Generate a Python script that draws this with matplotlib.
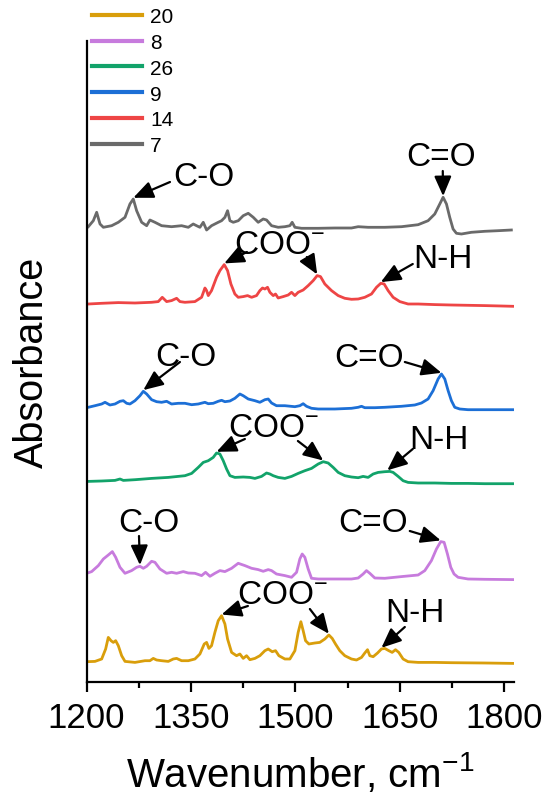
import numpy as np
import matplotlib
matplotlib.use('Agg')
import matplotlib.pyplot as plt

plt.rcParams['font.family'] = ['Liberation Sans', 'DejaVu Sans']
plt.rcParams['mathtext.fontset'] = 'custom'
plt.rcParams['mathtext.rm'] = 'Liberation Sans'
plt.rcParams['mathtext.it'] = 'Liberation Sans'
plt.rcParams['mathtext.default'] = 'regular'

# ---------------- data ----------------
labels = ['20', '8', '26', '9', '14', '7']
colors = ['#D99E0B', '#C77BDD', '#12A36A', '#1C6FD6', '#EE4545', '#6A6A6A']
offsets = [0.203, 1.087, 2.003, 2.74, 3.787, 4.54]

wn_20 = [1200.2, 1212.2, 1221.8, 1227.5, 1231.3, 1235.2, 1238.5, 1241.9, 1245.7, 1250.5,
         1255.3, 1269.6, 1284.0, 1291.1, 1295.9, 1300.7, 1307.9, 1317.5, 1324.6, 1329.4,
         1336.6, 1346.2, 1355.7, 1362.9, 1369.1, 1372.5, 1375.8, 1379.6, 1384.4, 1389.2,
         1394.0, 1398.8, 1402.6, 1408.4, 1415.5, 1420.3, 1425.1, 1429.9, 1434.7, 1441.9,
         1449.0, 1456.2, 1461.0, 1466.7, 1471.5, 1476.3, 1484.9, 1492.1, 1499.3, 1504.0,
         1507.9, 1511.2, 1514.6, 1519.4, 1528.0, 1535.1, 1542.3, 1548.1, 1552.9, 1557.6,
         1563.8, 1571.0, 1580.6, 1587.8, 1595.0, 1599.7, 1603.6, 1606.9, 1611.7, 1618.0,
         1623.6, 1628.4, 1634.2, 1639.0, 1643.8, 1648.5, 1654.7, 1661.9, 1676.3, 1700.2,
         1724.1, 1772.0, 1812.6]
abs_20 = [0.0, 0.003, 0.027, 0.127, 0.243, 0.21, 0.193, 0.21, 0.16, 0.06,
          0.003, -0.007, 0.01, 0.01, 0.033, 0.017, 0.01, 0.003, 0.027, 0.033,
          0.01, 0.01, 0.027, 0.077, 0.177, 0.193, 0.133, 0.16, 0.293, 0.41,
          0.46, 0.377, 0.227, 0.093, 0.06, 0.077, 0.033, 0.06, 0.02, 0.033,
          0.06, 0.11, 0.127, 0.1, 0.11, 0.06, 0.027, 0.027, 0.11, 0.293,
          0.4, 0.31, 0.21, 0.177, 0.187, 0.193, 0.227, 0.267, 0.233, 0.177,
          0.11, 0.06, 0.027, 0.017, 0.043, 0.087, 0.12, 0.06, 0.05, 0.087,
          0.127, 0.133, 0.11, 0.093, 0.12, 0.093, 0.027, 0.0, -0.007, -0.007,
          -0.01, -0.013, -0.017]

wn_8 = [1200.2, 1207.4, 1217.0, 1224.2, 1231.3, 1237.1, 1241.9, 1248.1, 1255.3, 1264.8,
        1272.0, 1276.8, 1281.6, 1286.4, 1293.5, 1298.3, 1305.5, 1315.1, 1322.2, 1329.4,
        1339.0, 1346.2, 1355.7, 1365.3, 1371.0, 1377.3, 1384.4, 1391.6, 1398.8, 1408.4,
        1417.9, 1427.5, 1437.1, 1446.6, 1453.8, 1461.0, 1465.8, 1472.9, 1484.9, 1494.5,
        1501.7, 1506.4, 1509.8, 1513.6, 1518.4, 1523.2, 1532.8, 1556.7, 1580.6, 1590.2,
        1597.3, 1602.1, 1606.9, 1614.1, 1628.4, 1652.4, 1676.3, 1685.9, 1695.4, 1702.6,
        1708.8, 1713.6, 1718.4, 1723.2, 1727.9, 1733.7, 1748.0, 1772.0, 1812.6]
abs_8 = [0.0, 0.017, 0.077, 0.143, 0.183, 0.217, 0.16, 0.06, 0.0, 0.027,
         0.06, 0.07, 0.05, 0.07, 0.12, 0.11, 0.043, 0.0, 0.01, 0.0,
         0.017, 0.003, 0.0, -0.023, 0.01, -0.03, 0.0, 0.027, 0.017, 0.05,
         0.1, 0.077, 0.05, 0.037, 0.02, 0.037, 0.027, -0.007, -0.023, -0.04,
         0.01, 0.143, 0.193, 0.16, 0.043, -0.05, -0.057, -0.057, -0.057, -0.047,
         -0.007, 0.027, 0.0, -0.047, -0.05, -0.033, -0.017, 0.027, 0.127, 0.243,
         0.317, 0.31, 0.193, 0.06, -0.007, -0.04, -0.057, -0.06, -0.063]

wn_26 = [1202.6, 1221.8, 1240.9, 1248.1, 1252.9, 1269.6, 1293.5, 1317.5, 1341.4, 1351.0,
         1360.5, 1367.7, 1374.9, 1382.0, 1386.8, 1391.6, 1396.4, 1401.2, 1406.0, 1413.1,
         1425.1, 1434.7, 1441.9, 1451.4, 1458.6, 1463.4, 1468.2, 1475.3, 1484.9, 1494.5,
         1504.0, 1513.6, 1523.2, 1532.8, 1540.0, 1547.1, 1554.3, 1561.5, 1571.0, 1580.6,
         1590.2, 1597.3, 1604.5, 1611.7, 1618.9, 1628.4, 1635.6, 1640.4, 1647.6, 1654.7,
         1661.9, 1676.3, 1700.2, 1724.1, 1748.0, 1772.0, 1812.6]
abs_26 = [0.003, 0.007, 0.013, 0.027, 0.013, 0.02, 0.033, 0.043, 0.06, 0.083,
          0.143, 0.193, 0.21, 0.243, 0.287, 0.277, 0.21, 0.127, 0.06, 0.043,
          0.047, 0.043, 0.033, 0.053, 0.087, 0.077, 0.06, 0.043, 0.033, 0.053,
          0.083, 0.11, 0.133, 0.177, 0.2, 0.187, 0.143, 0.093, 0.06, 0.047,
          0.04, 0.053, 0.043, 0.077, 0.093, 0.1, 0.103, 0.093, 0.053, 0.01,
          -0.007, -0.013, -0.013, -0.017, -0.017, -0.02, -0.02]

wn_9 = [1202.6, 1212.2, 1221.8, 1226.6, 1233.7, 1240.9, 1248.1, 1252.9, 1257.7, 1262.4,
        1269.6, 1276.8, 1281.6, 1286.4, 1293.5, 1300.7, 1307.9, 1315.1, 1322.2, 1331.8,
        1341.4, 1351.0, 1360.5, 1370.1, 1374.9, 1382.0, 1389.2, 1394.0, 1398.8, 1406.0,
        1413.1, 1420.3, 1425.1, 1432.3, 1441.9, 1449.0, 1456.2, 1461.0, 1465.8, 1472.9,
        1484.9, 1499.3, 1506.4, 1511.2, 1516.0, 1523.2, 1532.8, 1556.7, 1580.6, 1590.2,
        1595.0, 1599.7, 1614.1, 1628.4, 1652.4, 1671.5, 1681.1, 1690.6, 1697.8, 1705.0,
        1709.8, 1714.6, 1719.4, 1724.1, 1728.9, 1736.1, 1748.0, 1772.0, 1812.6]
abs_9 = [0.007, 0.023, 0.04, 0.057, 0.03, 0.04, 0.067, 0.073, 0.047, 0.04,
         0.073, 0.123, 0.167, 0.14, 0.083, 0.063, 0.057, 0.067, 0.04, 0.047,
         0.047, 0.033, 0.04, 0.057, 0.043, 0.047, 0.067, 0.077, 0.063, 0.07,
         0.097, 0.14, 0.123, 0.09, 0.073, 0.057, 0.083, 0.09, 0.05, 0.023,
         0.023, 0.013, 0.023, 0.043, 0.017, -0.003, -0.01, -0.01, -0.003, 0.007,
         0.017, 0.003, 0.003, 0.007, 0.017, 0.03, 0.05, 0.09, 0.173, 0.29,
         0.34, 0.29, 0.173, 0.073, 0.007, -0.01, -0.017, -0.017, -0.017]

wn_14 = [1202.6, 1221.8, 1245.7, 1269.6, 1293.5, 1303.1, 1308.8, 1315.1, 1322.2, 1329.4,
         1334.2, 1341.4, 1355.7, 1365.3, 1370.1, 1372.5, 1374.9, 1379.6, 1386.8, 1391.6,
         1397.8, 1402.6, 1407.4, 1413.1, 1417.9, 1425.1, 1431.3, 1437.1, 1444.2, 1449.0,
         1452.8, 1456.2, 1460.0, 1463.4, 1468.2, 1471.5, 1475.3, 1482.5, 1489.7, 1494.5,
         1499.3, 1504.0, 1511.2, 1518.4, 1525.6, 1531.3, 1536.1, 1542.3, 1551.9, 1561.5,
         1571.0, 1580.6, 1590.2, 1599.7, 1609.3, 1616.5, 1622.7, 1627.5, 1633.2, 1640.4,
         1650.0, 1661.9, 1676.3, 1700.2, 1724.1, 1748.0, 1772.0, 1795.9, 1812.6]
abs_14 = [-0.007, 0.0, 0.007, 0.003, 0.01, 0.017, 0.06, 0.017, 0.027, 0.05,
          0.017, 0.01, 0.017, 0.06, 0.153, 0.127, 0.077, 0.127, 0.26, 0.327,
          0.387, 0.327, 0.193, 0.093, 0.06, 0.067, 0.077, 0.06, 0.077, 0.127,
          0.153, 0.143, 0.16, 0.11, 0.077, 0.093, 0.053, 0.067, 0.083, 0.11,
          0.077, 0.11, 0.133, 0.177, 0.227, 0.277, 0.267, 0.193, 0.127, 0.077,
          0.05, 0.04, 0.043, 0.06, 0.093, 0.16, 0.2, 0.193, 0.127, 0.06,
          0.017, -0.007, -0.007, -0.013, -0.017, -0.02, -0.023, -0.027, -0.03]

wn_7 = [1202.6, 1209.8, 1214.6, 1219.4, 1224.2, 1236.1, 1245.7, 1255.3, 1262.4, 1267.2,
        1272.0, 1279.2, 1286.4, 1291.1, 1298.3, 1307.9, 1322.2, 1336.6, 1346.2, 1353.3,
        1358.1, 1362.9, 1367.7, 1372.5, 1379.6, 1389.2, 1394.0, 1398.8, 1402.6, 1406.0,
        1410.8, 1418.0, 1425.1, 1432.3, 1439.5, 1446.6, 1453.8, 1458.6, 1465.8, 1475.3,
        1484.9, 1492.1, 1495.4, 1499.3, 1508.8, 1532.8, 1556.7, 1580.6, 1590.2, 1604.5,
        1628.4, 1652.4, 1676.3, 1690.6, 1700.2, 1707.4, 1712.2, 1717.0, 1721.7, 1726.5,
        1731.3, 1738.5, 1752.8, 1772.0, 1791.1, 1810.2]
abs_7 = [0.013, 0.073, 0.157, 0.04, 0.007, 0.023, 0.057, 0.107, 0.24, 0.29,
         0.173, 0.057, 0.023, 0.08, 0.057, 0.023, 0.013, 0.023, 0.007, 0.04,
         0.023, 0.007, 0.057, -0.02, 0.023, 0.057, 0.073, 0.107, 0.173, 0.073,
         0.057, 0.073, 0.123, 0.147, 0.107, 0.057, 0.09, 0.08, 0.023, 0.007,
         0.013, 0.023, 0.057, 0.007, -0.003, -0.003, 0.0, 0.0, 0.013, 0.007,
         0.007, 0.013, 0.033, 0.073, 0.14, 0.24, 0.307, 0.24, 0.107, -0.01,
         -0.053, -0.06, -0.043, -0.033, -0.027, -0.02]

series = {'20': (wn_20, abs_20), '8': (wn_8, abs_8), '26': (wn_26, abs_26),
          '9': (wn_9, abs_9), '14': (wn_14, abs_14), '7': (wn_7, abs_7)}

x_ticks = [1200, 1350, 1500, 1650, 1800]

# annotations: (text, series, text position, [(arrow start, target wavenumber), ...])
COO = 'COO$^{-}$'
annotations = [
    ('C-O', '7', (1368.7, 5.05), [((1319.9, 5.00), 1267.2)]),
    ('C=O', '7', (1708.8, 5.26), [((1711.7, 5.11), 1712.2)]),
    (COO, '14', (1477.7, 4.37), [((1430.4, 4.30), 1397.8), ((1516.5, 4.25), 1531.3)]),
    ('N-H', '14', (1711.7, 4.23), [((1668.6, 4.18), 1622.7)]),
    ('C-O', '9', (1342.8, 3.26), [((1334.2, 3.20), 1281.6)]),
    ('C=O', '9', (1605.5, 3.24), [((1657.2, 3.20), 1709.8)]),
    (COO, '26', (1467.9, 2.54), [((1427.5, 2.43), 1386.8), ((1503.6, 2.41), 1540.0)]),
    ('N-H', '26', (1706.0, 2.42), [((1668.6, 2.33), 1632.0)]),
    ('C-O', '8', (1289.7, 1.59), [((1275.4, 1.46), 1276.8)]),
    ('C=O', '8', (1611.4, 1.59), [((1664.3, 1.51), 1708.8)]),
    (COO, '20', (1482.0, 0.87), [((1431.8, 0.76), 1394.0), ((1520.8, 0.73), 1548.1)]),
    ('N-H', '20', (1671.5, 0.69), [((1657.2, 0.55), 1623.6)]),
]

# ---------------- figure ----------------
fig = plt.figure(figsize=(5.5, 8.03), dpi=100)
ax = fig.add_axes([86.5 / 550, 120 / 803, 427.5 / 550, 641 / 803])

for lab, col, off in zip(labels, colors, offsets):
    wn, ab = series[lab]
    ax.plot(wn, np.asarray(ab) + off, color=col, lw=2.0, label=lab, solid_joinstyle='round')

for text, lab, tpos, arrows in annotations:
    wn, ab = series[lab]
    off = offsets[labels.index(lab)]
    ax.text(tpos[0], tpos[1], text, ha='center', va='center', fontsize=24, color='black')
    for start, tip_wn in arrows:
        tip_y = np.interp(tip_wn, wn, ab) + off + 0.012
        ax.annotate('', xy=(tip_wn, tip_y), xytext=start,
                    arrowprops=dict(arrowstyle='-|>,head_length=0.6,head_width=0.26',
                                    color='black', lw=1.6, shrinkA=0, shrinkB=0,
                                    mutation_scale=20))

ax.set_xlim(1200, 1814)
ax.set_ylim(0, 6.41)
ax.set_xticks(x_ticks)
ax.set_xticks([1275, 1425, 1575, 1725], minor=True)
ax.set_yticks([])
for s in ['top', 'right']:
    ax.spines[s].set_visible(False)
for s in ['left', 'bottom']:
    ax.spines[s].set_linewidth(1.6)
ax.tick_params(axis='x', which='major', direction='out', length=7.5, width=1.6,
               labelsize=25, pad=6)
ax.tick_params(axis='x', which='minor', direction='out', length=4, width=1.6)
ax.set_xlabel('Wavenumber, cm$^{-1}$', fontsize=29, labelpad=12)
ax.set_ylabel('Absorbance', fontsize=28.5)
ax.yaxis.label.set_va('center')
ax.yaxis.set_label_coords(-0.128, 0.5)

leg = ax.legend(loc='upper left', bbox_to_anchor=(92 / 550, 1 - 8 / 803),
                bbox_transform=fig.transFigure, frameon=False, fontsize=15,
                handlelength=2.4, handletextpad=0.4, labelspacing=0.33,
                borderpad=0, borderaxespad=0)
for h in leg.get_lines():
    h.set_linewidth(3)

fig.savefig('out.png', dpi=100)
